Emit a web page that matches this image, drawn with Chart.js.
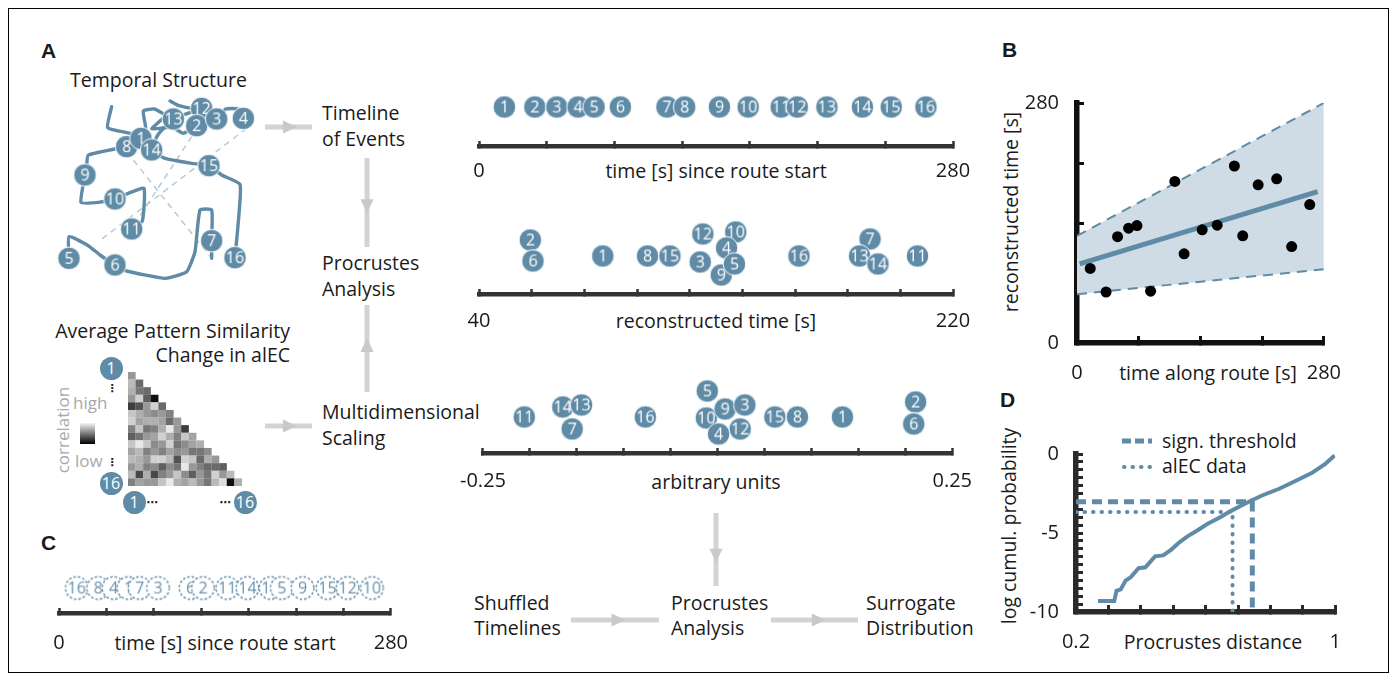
<!DOCTYPE html>
<html>
<head>
<meta charset="utf-8">
<script src="https://cdn.jsdelivr.net/npm/chart.js@4.4.0/dist/chart.umd.min.js"></script>
<style>
body { margin: 0; background: #fff; }
#fig { position: relative; width: 1390px; height: 679px; overflow: hidden; font-family: "Open Sans", sans-serif; color: #1a1a1a; }
#fig canvas { position: absolute; }
.t { position: absolute; white-space: nowrap; }
.letter { position: absolute; font-family: "Liberation Sans", Arial, sans-serif; font-weight: bold; font-size: 21px; line-height: 21px; }
.frame { position: absolute; left: 8px; top: 8px; width: 1381px; height: 665px; border: 1px solid #000; box-sizing: border-box; }
.badge { position: absolute; width: 23px; height: 23px; margin: -11.5px 0 0 -11.5px; border-radius: 50%; background: #5f8ba6; color: #fff; font-size: 16px; line-height: 23px; text-align: center; }
.dots { position: absolute; font-family: "DejaVu Sans", sans-serif; font-weight: bold; font-size: 11px; line-height: 11px; transform: translate(-50%, -50%); color: #222; }
</style>
</head>
<body>
<div id="fig">
  <div class="frame"></div>
  <svg id="arrows" width="1390" height="679" style="position:absolute;left:0;top:0"></svg>
</div>
<script>
// ---- data ----
const eventLabels = ['1','2','3','4','5','6','7','8','9','10','11','12','13','14','15','16'];
const eventTimes = [15, 33, 46, 58.5, 68, 83.5, 111, 121.5, 142, 159, 178.5, 188, 205.5, 226.5, 243.5, 264];
const reconTimes = [87, 59.5, 124, 134, 137, 60.5, 188.5, 104, 132, 137.5, 206.5, 125, 184.5, 191.5, 112.5, 161.5];
const reconOffsets = [38, 54, 32, 46, 30, 33, 55, 38, 19, 62, 38, 60, 38, 30, 38, 38];
const reconDrawOrder = [2, 6, 1, 8, 15, 12, 10, 4, 9, 3, 5, 16, 7, 13, 14, 11];
const mdsValues = [0.133, 0.211, 0.029, 0.001, -0.011, 0.209, -0.155, 0.085, 0.008, -0.012, -0.206, 0.024, -0.145, -0.165, 0.061, -0.077];
const mdsOffsets = [36, 51, 48, 19, 62, 29, 24, 36, 44, 35, 36, 24, 48, 46, 36, 36];
const mdsDrawOrder = [11, 14, 13, 7, 16, 5, 10, 9, 3, 12, 4, 15, 8, 1, 2, 6];
const shuffledLabels = ['16','8','4','1','7','3','6','2','11','14','13','5','9','15','12','10'];

const routeNodeLabels = ['12','8','1','14','13','2','3','4','5','6','7','9','10','11','15','16'];
const routeNodeX = [440, 215, 258, 290, 355, 425, 485, 565, 42, 180, 470, 90, 180, 230, 462, 540];
const routeNodeY = [40, 155, 130, 165, 72, 92, 72, 70, 490, 510, 437, 240, 312, 402, 212, 488];
const routeSeg1X = [170, 158, 225, 258, 272, 265, 298, 330, 290, 350, 385, 425, 485, 512, 548, 565];
const routeSeg1Y = [35, 98, 115, 130, 100, 48, 42, 62, 102, 96, 115, 92, 72, 42, 42, 70];
const routeSeg2X = [42, 42, 100, 135, 180, 215, 330, 395, 420, 435, 470, 470, 470];
const routeSeg2Y = [490, 425, 452, 480, 510, 528, 550, 530, 470, 345, 345, 437, 490];
const routeSeg3X = [215, 100, 95, 90, 78, 130, 180, 220, 267, 262, 230];
const routeSeg3Y = [155, 180, 210, 240, 322, 322, 312, 295, 280, 378, 402];
const routeSeg4X = [345, 372, 410, 440, 355, 310, 290, 330, 410, 462, 500, 555, 550, 540];
const routeSeg4Y = [18, 32, 40, 40, 72, 118, 165, 190, 205, 212, 240, 268, 380, 488];
const jumpFromX = [575, 410, 215];
const jumpFromY = [100, 125, 170];
const jumpToX = [130, 240, 470];
const jumpToY = [440, 385, 490];

// lower triangle of the similarity change matrix, row by row (0 = low, 1 = high)
const simRows = [
  [0.6],
  [0.75, 0.4],
  [0.7, 0.45, 0.4],
  [0.6, 0.85, 0.35, 0.0],
  [0.2, 0.3, 0.6, 0.85, 0.4],
  [0.8, 0.7, 0.6, 0.55, 0.6, 0.5],
  [0.85, 0.65, 0.7, 0.7, 0.65, 0.4, 0.6],
  [0.5, 0.8, 0.45, 0.5, 0.7, 0.95, 0.6, 0.2],
  [0.35, 0.45, 0.6, 0.65, 0.85, 0.7, 0.5, 0.8, 0.65],
  [0.8, 0.95, 0.8, 0.55, 0.6, 0.85, 0.45, 0.55, 0.65, 0.7],
  [0.65, 0.75, 0.5, 0.6, 0.5, 0.65, 0.55, 0.6, 0.45, 0.45, 0.55],
  [0.75, 0.7, 0.6, 0.85, 0.85, 0.75, 0.3, 0.85, 0.8, 0.4, 0.7, 0.6],
  [0.6, 0.7, 0.5, 0.55, 0.35, 0.55, 0.45, 0.95, 0.6, 0.5, 0.4, 0.4, 0.35],
  [0.75, 0.25, 0.7, 0.25, 0.5, 0.6, 0.8, 0.55, 0.35, 0.6, 0.45, 0.85, 0.6, 0.75],
  [0.5, 0.65, 0.6, 0.6, 0.8, 0.95, 0.7, 0.65, 0.75, 0.6, 0.45, 0.75, 0.9, 0.0, 0.7]
];

const fitX = [3, 273];
const fitY = [92.4, 176.6];
const bandX = [0, 280];
const bandUpper = [125, 280];
const bandLower = [57, 86];

const curveX = [0.268, 0.318, 0.325, 0.338, 0.353, 0.368, 0.393, 0.414, 0.444, 0.469, 0.494, 0.519, 0.544, 0.574, 0.605, 0.645, 0.676, 0.706, 0.741, 0.776, 0.827, 0.877, 0.927, 0.968, 0.998];
const curveY = [-9.31, -9.31, -8.66, -8.57, -8.01, -7.82, -7.23, -7.17, -6.48, -6.42, -6.05, -5.59, -5.21, -4.84, -4.43, -4.0, -3.63, -3.31, -2.94, -2.61, -2.2, -1.71, -1.21, -0.65, -0.09];
const thresholdDist = 0.744, thresholdLogP = -3.02;
const dataDist = 0.683, dataLogP = -3.67;

// ---- helpers ----
const BLUE = '#5f8ba6';
const FS = 19.5;
const fig = document.getElementById('fig');
Chart.defaults.font.family = '"Open Sans", sans-serif';
Chart.defaults.color = '#1a1a1a';

function text(str, x, y, align, size, color, rotate) {
  const d = document.createElement('div');
  d.className = 't';
  d.textContent = str;
  size = size || FS;
  d.style.fontSize = size + 'px';
  d.style.lineHeight = size + 'px';
  if (color) d.style.color = color;
  d.style.left = x + 'px';
  if (rotate) {
    d.style.top = y + 'px';
    d.style.transform = 'translate(-50%, -50%) rotate(-90deg)';
  } else {
    d.style.top = (y - size * 0.535) + 'px';
    if (align === 'c') d.style.transform = 'translateX(-50%)';
    if (align === 'r') d.style.transform = 'translateX(-100%)';
  }
  fig.appendChild(d);
}

function letter(ch, x, y) {
  const d = document.createElement('div');
  d.className = 'letter';
  d.textContent = ch;
  d.style.left = x + 'px';
  d.style.top = (y - 3) + 'px';
  fig.appendChild(d);
}

function badge(label, dashed) {
  const c = document.createElement('canvas');
  c.width = 27; c.height = 27;
  const g = c.getContext('2d');
  g.beginPath();
  g.arc(13.5, 13.5, 11.3, 0, Math.PI * 2);
  if (dashed) {
    g.fillStyle = '#fff'; g.fill();
    g.setLineDash([2.5, 2]); g.lineWidth = 1.5; g.strokeStyle = '#6891ab'; g.stroke();
    g.fillStyle = '#6891ab';
  } else {
    g.fillStyle = BLUE; g.fill();
    g.lineWidth = 1; g.strokeStyle = '#fff'; g.stroke();
    g.fillStyle = '#fff';
  }
  g.font = '16px "Open Sans"';
  g.textAlign = 'center';
  g.textBaseline = 'alphabetic';
  g.fillText(label, 13.5, 19.2);
  return c;
}

function makeCanvas(area, pad) {
  const cv = document.createElement('canvas');
  const w = area.right - area.left + pad.left + pad.right;
  const h = area.bottom - area.top + pad.top + pad.bottom;
  cv.width = w; cv.height = h;
  cv.style.width = w + 'px'; cv.style.height = h + 'px';
  cv.style.left = (area.left - pad.left) + 'px';
  cv.style.top = (area.top - pad.top) + 'px';
  fig.appendChild(cv);
  return cv;
}

const near = (a, b) => Math.abs(a - b) < 1e-6;
const baseOpts = { responsive: false, animation: false, events: [], plugins: { legend: { display: false }, tooltip: { enabled: false } } };

function timeline(o) {
  const areaH = 80, axisH = 45, padX = 40;
  const cv = makeCanvas({ left: o.left, right: o.right, top: o.axisY - areaH, bottom: o.axisY }, { left: padX, right: padX, top: 0, bottom: axisH });
  new Chart(cv, {
    type: 'scatter',
    data: { datasets: [{
      data: o.points,
      pointStyle: o.points.map(p => badge(p.label, o.dashed)),
      pointRadius: 11, borderWidth: 0, clip: false
    }] },
    options: Object.assign({}, baseOpts, {
      layout: { autoPadding: false, padding: { left: padX, right: padX, top: 0, bottom: 0 } },
      scales: {
        x: {
          type: 'linear', min: o.min, max: o.max,
          afterFit: s => { s.height = axisH; },
          ticks: {
            stepSize: o.step, autoSkip: false, maxRotation: 0, padding: o.gap,
            font: { size: 20 }, color: '#1a1a1a',
            callback: v => (near(v, o.min) || near(v, o.max)) ? String(Math.round(v * 100) / 100) : ''
          },
          border: { color: '#333', width: 4.5 },
          grid: { drawOnChartArea: false, drawTicks: true, tickLength: -5, tickWidth: 2.5, tickColor: '#333' }
        },
        y: { display: false, min: 0, max: areaH }
      }
    })
  });
}

function ordered(order, xs, offs) {
  return order.map(n => ({ x: xs[n - 1], y: offs[n - 1], label: eventLabels[n - 1] }));
}

// ---- texts ----
letter('A', 41, 43); letter('B', 1002, 42); letter('C', 41, 535); letter('D', 1000, 392);
text('Temporal Structure', 70, 80, 'l');
text('Timeline', 322, 113, 'l'); text('of Events', 322, 139, 'l');
text('Procrustes', 322, 263, 'l'); text('Analysis', 322, 289, 'l');
text('Multidimensional', 322, 412, 'l'); text('Scaling', 322, 438, 'l');
text('Average Pattern Similarity', 290, 331, 'r'); text('Change in alEC', 290, 355, 'r');
text('time [s] since route start', 716, 171, 'c');
text('reconstructed time [s]', 716, 321, 'c');
text('arbitrary units', 716, 482, 'c');
text('time [s] since route start', 225, 643, 'c');
text('Shuffled', 474, 603, 'l'); text('Timelines', 474, 628, 'l');
text('Procrustes', 671, 603, 'l'); text('Analysis', 671, 628, 'l');
text('Surrogate', 866, 603, 'l'); text('Distribution', 866, 628, 'l');
text('time along route [s]', 1208, 373, 'c');
text('reconstructed time [s]', 1011, 212, 'c', FS, null, true);
text('Procrustes distance', 1213, 642, 'c');
text('log cumul. probability', 1009, 526, 'c', FS, null, true);
text('sign. threshold', 1162, 441, 'l'); text('alEC data', 1162, 466, 'l');
text('high', 73, 403, 'l', 17, '#a8a8a8'); text('low', 75, 461, 'l', 17, '#a8a8a8');
text('correlation', 62, 430, 'c', 17, '#a8a8a8', true);

// colour bar + matrix labels
const bar = document.createElement('div');
Object.assign(bar.style, { position: 'absolute', left: '80px', top: '423px', width: '15px', height: '21px', background: 'linear-gradient(#f4f4f4, #000)' });
fig.appendChild(bar);
[['1', 111, 368], ['16', 111, 483], ['1', 134, 502], ['16', 245, 502]].forEach(([s, x, y]) => {
  const b = document.createElement('div');
  b.className = 'badge'; b.textContent = s;
  b.style.left = x + 'px'; b.style.top = y + 'px';
  fig.appendChild(b);
});
[['⋮', 112, 388], ['⋮', 112, 462], ['⋯', 152, 502], ['⋯', 225, 502]].forEach(([s, x, y]) => {
  const d = document.createElement('div');
  d.className = 'dots'; d.textContent = s;
  d.style.left = x + 'px'; d.style.top = y + 'px';
  fig.appendChild(d);
});

// ---- arrows ----
const svg = document.getElementById('arrows');
function arrow(x1, y1, x2, y2, t) {
  const ns = 'http://www.w3.org/2000/svg';
  const l = document.createElementNS(ns, 'line');
  l.setAttribute('x1', x1); l.setAttribute('y1', y1); l.setAttribute('x2', x2); l.setAttribute('y2', y2);
  l.setAttribute('stroke', '#d3d3d3'); l.setAttribute('stroke-width', 5);
  svg.appendChild(l);
  const dx = x2 - x1, dy = y2 - y1, len = Math.hypot(dx, dy), ux = dx / len, uy = dy / len;
  const tx = x1 + dx * t, ty = y1 + dy * t, bx = tx - ux * 14, by = ty - uy * 14;
  const p = document.createElementNS(ns, 'polygon');
  p.setAttribute('points', [tx, ty, bx - uy * 6.5, by + ux * 6.5, bx + uy * 6.5, by - ux * 6.5].join(' '));
  p.setAttribute('fill', '#c9c9c9');
  svg.appendChild(p);
}
arrow(265, 127, 312, 127, 0.68);
arrow(265, 426, 312, 426, 0.68);
arrow(367, 158, 367, 247, 0.62);
arrow(367, 392, 367, 305, 0.62);
arrow(716, 513, 716, 586, 0.68);
arrow(571, 620, 659, 620, 0.62);
arrow(771, 620, 858, 620, 0.63);
(function legendSamples() {
  const ns = 'http://www.w3.org/2000/svg';
  const a = document.createElementNS(ns, 'line');
  a.setAttribute('x1', 1122); a.setAttribute('x2', 1152); a.setAttribute('y1', 441); a.setAttribute('y2', 441);
  a.setAttribute('stroke', BLUE); a.setAttribute('stroke-width', 5); a.setAttribute('stroke-dasharray', '9 4');
  svg.appendChild(a);
  const b = document.createElementNS(ns, 'line');
  b.setAttribute('x1', 1124); b.setAttribute('x2', 1150); b.setAttribute('y1', 467); b.setAttribute('y2', 467);
  b.setAttribute('stroke', BLUE); b.setAttribute('stroke-width', 4); b.setAttribute('stroke-linecap', 'round'); b.setAttribute('stroke-dasharray', '0.5 8');
  svg.appendChild(b);
})();

// ---- timelines ----
timeline({ left: 479, right: 953, axisY: 146, min: 0, max: 280, step: 40, gap: 18,
  points: eventTimes.map((t, i) => ({ x: t, y: 39, label: eventLabels[i] })) });
timeline({ left: 479, right: 953, axisY: 294, min: 40, max: 220, step: 20, gap: 20,
  points: ordered(reconDrawOrder, reconTimes, reconOffsets) });
timeline({ left: 479, right: 953, axisY: 453, min: -0.25, max: 0.25, step: 0.05, gap: 21,
  points: ordered(mdsDrawOrder, mdsValues, mdsOffsets) });
timeline({ left: 59, right: 391, axisY: 613, min: 0, max: 280, step: 40, gap: 23, dashed: true,
  points: eventTimes.map((t, i) => ({ x: t, y: 25, label: shuffledLabels[i] })) });

// ---- route map ----
(function () {
  const cv = makeCanvas({ left: 55, top: 95, right: 255, bottom: 280 }, { left: 0, right: 0, top: 0, bottom: 0 });
  const seg = (xs, ys) => xs.map((x, i) => ({ x: x, y: ys[i] }));
  const line = { showLine: true, pointRadius: 0, borderColor: BLUE, borderWidth: 3.4, tension: 0.15, borderJoinStyle: 'round', borderCapStyle: 'round', order: 1, clip: false };
  const datasets = [{
    data: seg(routeNodeX, routeNodeY),
    pointStyle: routeNodeLabels.map(l => badge(l)),
    pointRadius: 11, borderWidth: 0, order: 0, clip: false
  },
  Object.assign({ data: seg(routeSeg1X, routeSeg1Y) }, line),
  Object.assign({ data: seg(routeSeg2X, routeSeg2Y) }, line),
  Object.assign({ data: seg(routeSeg3X, routeSeg3Y) }, line),
  Object.assign({ data: seg(routeSeg4X, routeSeg4Y) }, line)];
  jumpFromX.forEach((x, i) => datasets.push({
    data: [{ x: x, y: jumpFromY[i] }, { x: jumpToX[i], y: jumpToY[i] }],
    showLine: true, pointRadius: 0, borderColor: '#b7c9d5', borderWidth: 1.5, borderDash: [6, 5], order: 2, clip: false
  }));
  new Chart(cv, {
    type: 'scatter',
    data: { datasets: datasets },
    options: Object.assign({}, baseOpts, {
      layout: { autoPadding: false },
      scales: { x: { display: false, min: 0, max: 600 }, y: { display: false, min: 0, max: 555, reverse: true } }
    })
  });
})();

// ---- similarity matrix ----
(function () {
  const cv = makeCanvas({ left: 128, top: 372, right: 242, bottom: 486 }, { left: 0, right: 0, top: 0, bottom: 0 });
  const pts = [], cols = [];
  simRows.forEach((row, r) => row.forEach((v, c) => {
    pts.push({ x: c + 1, y: r + 1 });
    const g = Math.round(15 + v * 228);
    cols.push('rgb(' + g + ',' + g + ',' + g + ')');
  }));
  new Chart(cv, {
    type: 'scatter',
    data: { datasets: [{ data: pts, pointStyle: 'rect', pointRadius: 5.45, borderWidth: 0, backgroundColor: cols, clip: false }] },
    options: Object.assign({}, baseOpts, {
      layout: { autoPadding: false },
      scales: { x: { display: false, min: 0.5, max: 15.5 }, y: { display: false, min: 0.5, max: 15.5, reverse: true } }
    })
  });
})();

// ---- panel B ----
(function () {
  const cv = makeCanvas({ left: 1077, top: 81, right: 1341, bottom: 343 }, { left: 55, right: 25, top: 15, bottom: 45 });
  const xy = (xs, ys) => xs.map((x, i) => ({ x: x, y: ys[i] }));
  new Chart(cv, {
    type: 'scatter',
    data: { datasets: [
      { data: xy(eventTimes, reconTimes), pointRadius: 5.5, backgroundColor: '#000', borderWidth: 0, order: 0 },
      { type: 'line', data: xy(fitX, fitY), borderColor: BLUE, borderWidth: 5, pointRadius: 0, order: 1 },
      { type: 'line', data: xy(bandX, bandUpper), borderColor: BLUE, borderWidth: 2, borderDash: [10, 7], pointRadius: 0, fill: '+1', backgroundColor: '#cfdce5', order: 2 },
      { type: 'line', data: xy(bandX, bandLower), borderColor: BLUE, borderWidth: 2, borderDash: [10, 7], pointRadius: 0, order: 3 }
    ] },
    options: Object.assign({}, baseOpts, {
      layout: { autoPadding: false, padding: { left: 0, right: 25, top: 15, bottom: 0 } },
      plugins: { legend: { display: false }, tooltip: { enabled: false }, filler: { drawTime: 'beforeDatasetsDraw' } },
      scales: {
        x: {
          type: 'linear', min: 0, max: 280, afterFit: s => { s.height = 45; },
          ticks: { stepSize: 70, autoSkip: false, maxRotation: 0, padding: 25, font: { size: 20 },
            callback: v => (v === 0 || v === 280) ? String(v) : '' },
          border: { color: '#111', width: 5.5 },
          grid: { drawOnChartArea: false, tickLength: -7, tickWidth: 3, tickColor: '#111' }
        },
        y: {
          type: 'linear', min: 0, max: 280, afterFit: s => { s.width = 55; },
          ticks: { stepSize: 70, autoSkip: false, padding: 25, font: { size: 20 },
            callback: v => (v === 0 || v === 280) ? String(v) : '' },
          border: { color: '#111', width: 5.5 },
          grid: { drawOnChartArea: false, tickLength: -7, tickWidth: 3, tickColor: '#111' }
        }
      }
    })
  });
})();

// ---- panel D ----
(function () {
  const cv = makeCanvas({ left: 1076, top: 433, right: 1341, bottom: 612 }, { left: 55, right: 25, top: 15, bottom: 45 });
  const xy = (xs, ys) => xs.map((x, i) => ({ x: x, y: ys[i] }));
  new Chart(cv, {
    type: 'scatter',
    data: { datasets: [
      { type: 'line', data: xy(curveX, curveY), borderColor: BLUE, borderWidth: 4, pointRadius: 0, order: 0 },
      { type: 'line', data: [{ x: 0.2, y: thresholdLogP }, { x: thresholdDist, y: thresholdLogP }, { x: thresholdDist, y: -10 }],
        borderColor: BLUE, borderWidth: 5, borderDash: [10, 6], pointRadius: 0, order: 1 },
      { type: 'line', data: [{ x: 0.2, y: dataLogP }, { x: dataDist, y: dataLogP }, { x: dataDist, y: -10 }],
        borderColor: BLUE, borderWidth: 4, borderDash: [0.5, 8], borderCapStyle: 'round', pointRadius: 0, order: 2 }
    ] },
    options: Object.assign({}, baseOpts, {
      layout: { autoPadding: false, padding: { left: 0, right: 25, top: 15, bottom: 0 } },
      scales: {
        x: {
          type: 'linear', min: 0.2, max: 1, afterFit: s => { s.height = 45; },
          ticks: { stepSize: 0.1, autoSkip: false, maxRotation: 0, padding: 25, font: { size: 20 },
            callback: v => near(v, 0.2) ? '0.2' : near(v, 1) ? '1' : '' },
          border: { color: '#2a2a2a', width: 5.5 },
          grid: { drawOnChartArea: false, tickLength: -7, tickWidth: 3, tickColor: '#2a2a2a' }
        },
        y: {
          type: 'linear', min: -10, max: 0, afterFit: s => { s.width = 55; },
          ticks: { stepSize: 0.5, autoSkip: false, padding: 24, font: { size: 20 },
            callback: v => near(v, 0) ? '0' : near(v, -5) ? '-5' : near(v, -10) ? '-10' : '' },
          border: { color: '#2a2a2a', width: 5.5 },
          grid: { drawOnChartArea: false, tickLength: -7, tickWidth: 3, tickColor: '#2a2a2a' }
        }
      }
    })
  });
})();
</script>
</body>
</html>
